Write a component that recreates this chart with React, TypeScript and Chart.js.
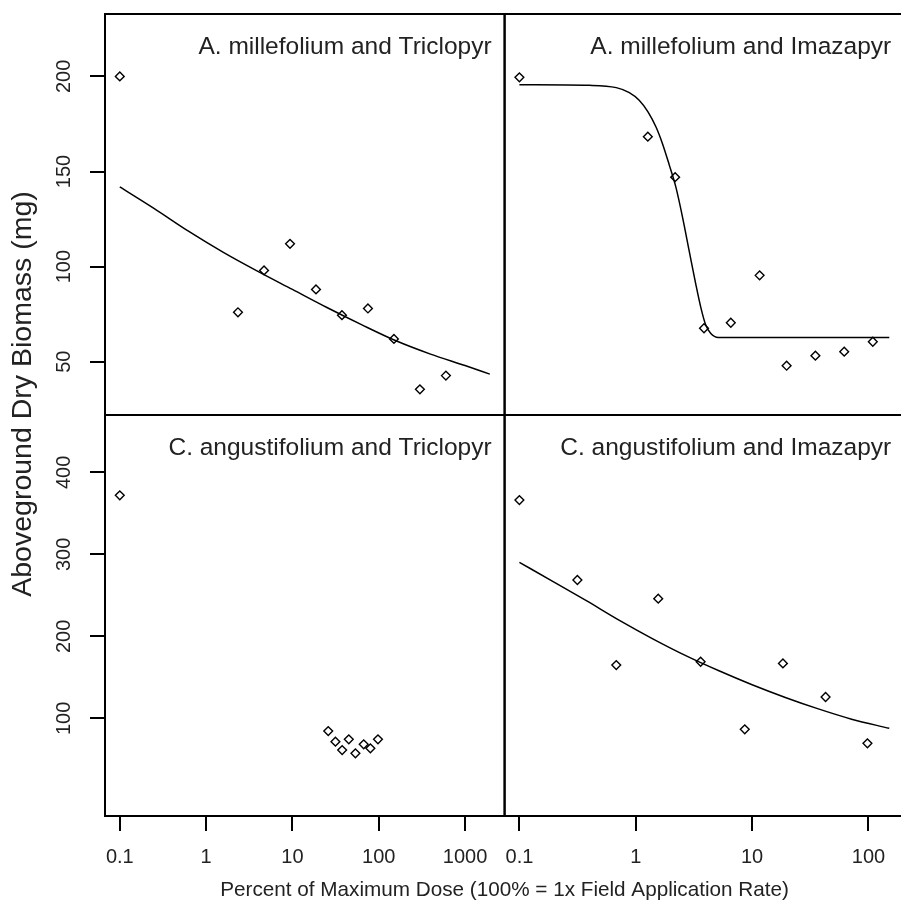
import React, { useEffect, useRef } from "react";
import { Chart, registerables } from "chart.js";

Chart.register(...registerables);

// ---- Data -------------------------------------------------------------

// A. millefolium, Triclopyr
const amTriDose = [0.1, 2.34, 4.69, 9.38, 18.75, 37.5, 75, 150, 300, 600];
const amTriBiomass = [200, 76, 98, 112, 88, 74.5, 78, 62, 35.5, 42.7];
const amTriFitDose = [0.1, 0.251, 0.631, 1.585, 3.98, 10, 25.1, 63.1, 158.5, 398, 1000, 1936];
const amTriFitBiomass = [141.9, 130.5, 118.5, 107.5, 97.5, 88, 78.5, 69.5, 61, 54, 48, 43.5];

// A. millefolium, Imazapyr
const amImaDose = [0.1, 1.27, 2.18, 3.86, 6.56, 11.6, 19.8, 35, 61.9, 109];
const amImaBiomass = [199.5, 168.3, 147, 67.6, 70.5, 95.4, 47.9, 53.2, 55.3, 60.5];
const amImaFitDose = [0.1, 0.4, 0.68, 0.88, 1.07, 1.27, 1.49, 1.7, 1.94, 2.21, 2.52, 2.87, 3.27, 3.61, 3.99, 4.4, 5.12, 151];
const amImaFitBiomass = [195.6, 195.3, 194.1, 191.5, 187.5, 181.5, 173.5, 164.5, 153.5, 141.9, 126.2, 108.7, 91.2, 79, 69.4, 65, 62.8, 62.8];

// C. angustifolium, Triclopyr
const caTriDose = [0.1, 26, 31.5, 37.7, 45, 53.7, 67, 80, 98];
const caTriBiomass = [372, 84.5, 71.5, 61.3, 74.4, 57.3, 68.3, 63.4, 74.4];

// C. angustifolium, Imazapyr
const caImaDose = [0.1, 0.315, 0.68, 1.56, 3.61, 8.65, 18.4, 42.8, 98];
const caImaBiomass = [366.2, 268.7, 165, 245.9, 169, 86.6, 167, 126, 69.5];
const caImaFitDose = [0.1, 0.195, 0.376, 0.724, 1.4, 2.69, 5.19, 10, 19.3, 37.1, 71.6, 151];
const caImaFitBiomass = [290.2, 266.8, 243.5, 219.5, 197, 176.5, 158, 141, 125.5, 111.5, 99, 87.8];

// Axis ticks
const leftDoseTicks = [0.1, 1, 10, 100, 1000];
const leftDoseLabels = ["0.1", "1", "10", "100", "1000"];
const rightDoseTicks = [0.1, 1, 10, 100];
const rightDoseLabels = ["0.1", "1", "10", "100"];
const topBiomassTicks = [50, 100, 150, 200];
const bottomBiomassTicks = [100, 200, 300, 400];

const panelTitles = [
  "A. millefolium and Triclopyr",
  "A. millefolium and Imazapyr",
  "C. angustifolium and Triclopyr",
  "C. angustifolium and Imazapyr",
];
const xTitle = "Percent of Maximum Dose (100% = 1x Field Application Rate)";
const yTitle = "Aboveground Dry Biomass (mg)";

// ---- Styling -----------------------------------------------------------

const FONT = '"Liberation Sans", Arial, sans-serif';
const TEXT = "#222";
const CANVAS_W = 910;
const CANVAS_H = 909;

const pts = (xs: number[], ys: number[]) => xs.map((x, i) => ({ x, y: ys[i] }));

const pointSet = (xs: number[], ys: number[], xAxisID: string, yAxisID: string) => ({
  data: pts(xs, ys),
  xAxisID,
  yAxisID,
  showLine: false,
  pointStyle: "rectRot" as const,
  pointRadius: 4.4,
  pointBorderWidth: 1.4,
  pointBorderColor: "#000",
  pointBackgroundColor: "rgba(0,0,0,0)",
});

const fitSet = (xs: number[], ys: number[], xAxisID: string, yAxisID: string) => ({
  data: pts(xs, ys),
  xAxisID,
  yAxisID,
  showLine: true,
  borderColor: "#000",
  borderWidth: 1.5,
  pointRadius: 0,
  cubicInterpolationMode: "monotone" as const,
  fill: false,
});

const tickGrid = { drawOnChartArea: false, drawTicks: true, tickLength: 15, color: "#000", lineWidth: 2 };

const xAxis = (ticks: number[], labels: string[], min: number, max: number, weight: number) => ({
  type: "logarithmic" as const,
  position: "bottom" as const,
  stack: "dose",
  stackWeight: 1,
  weight,
  min,
  max,
  afterBuildTicks: (s: any) => {
    s.ticks = ticks.map((v) => ({ value: v }));
  },
  afterFit: (s: any) => {
    s.height = CANVAS_H - 816;
    s.paddingLeft = 0;
    s.paddingRight = 0;
  },
  ticks: {
    autoSkip: false,
    maxRotation: 0,
    minRotation: 0,
    padding: 14,
    color: TEXT,
    font: { family: FONT, size: 20 },
    callback: (_v: any, i: number) => labels[i],
  },
  grid: tickGrid,
  border: { display: false },
});

const yAxis = (ticks: number[], min: number, max: number, weight: number) => ({
  type: "linear" as const,
  position: "left" as const,
  stack: "biomass",
  stackWeight: 1,
  weight,
  min,
  max,
  afterBuildTicks: (s: any) => {
    s.ticks = ticks.map((v) => ({ value: v }));
  },
  afterFit: (s: any) => {
    s.width = 105;
    s.paddingTop = 0;
    s.paddingBottom = 0;
  },
  ticks: {
    autoSkip: false,
    minRotation: 90,
    maxRotation: 90,
    crossAlign: "center" as const,
    padding: 9,
    color: TEXT,
    font: { family: FONT, size: 20 },
    callback: (v: any) => String(v),
  },
  grid: tickGrid,
  border: { display: false },
});

// Frames around the four panels plus panel captions and shared axis titles
const panelPlugin = {
  id: "panelDecor",
  afterDraw(chart: any) {
    const { ctx, scales } = chart;
    const cols = [scales.xL, scales.xR];
    const rows = [scales.yTop, scales.yBot];
    ctx.save();
    ctx.strokeStyle = "#000";
    ctx.lineWidth = 2;
    rows.forEach((ys: any) => {
      cols.forEach((xs: any) => {
        ctx.strokeRect(xs.left, ys.top, xs.right - xs.left, ys.bottom - ys.top);
      });
    });
    ctx.fillStyle = TEXT;
    ctx.font = `24.5px ${FONT}`;
    ctx.textAlign = "right";
    ctx.textBaseline = "middle";
    let k = 0;
    rows.forEach((ys: any) => {
      cols.forEach((xs: any) => {
        ctx.fillText(panelTitles[k++], xs.right - 13, ys.top + 33);
      });
    });
    ctx.textAlign = "center";
    ctx.font = `20.7px ${FONT}`;
    ctx.fillText(xTitle, (cols[0].left + cols[1].right) / 2, 890);
    ctx.save();
    ctx.font = `28.5px ${FONT}`;
    ctx.translate(23, 394);
    ctx.rotate(-Math.PI / 2);
    ctx.fillText(yTitle, 0, 0);
    ctx.restore();
    ctx.restore();
  },
};

export default function App() {
  const ref = useRef<HTMLCanvasElement>(null);

  useEffect(() => {
    if (!ref.current) return;
    const chart = new Chart(ref.current, {
      type: "scatter",
      data: {
        datasets: [
          pointSet(amTriDose, amTriBiomass, "xL", "yTop"),
          fitSet(amTriFitDose, amTriFitBiomass, "xL", "yTop"),
          pointSet(amImaDose, amImaBiomass, "xR", "yTop"),
          fitSet(amImaFitDose, amImaFitBiomass, "xR", "yTop"),
          pointSet(caTriDose, caTriBiomass, "xL", "yBot"),
          pointSet(caImaDose, caImaBiomass, "xR", "yBot"),
          fitSet(caImaFitDose, caImaFitBiomass, "xR", "yBot"),
        ] as any,
      },
      options: {
        animation: false,
        responsive: false,
        devicePixelRatio: 1,
        events: [],
        layout: { padding: { top: 14, left: 0, right: 0, bottom: 0 } },
        plugins: { legend: { display: false }, tooltip: { enabled: false } },
        scales: {
          xL: xAxis(leftDoseTicks, leftDoseLabels, 0.0674, 2873, 0),
          xR: xAxis(rightDoseTicks, rightDoseLabels, 0.0746, 202.9, 1),
          yTop: yAxis(topBiomassTicks, 22, 232.8, 2),
          yBot: yAxis(bottomBiomassTicks, -19.1, 469.9, 1),
        } as any,
      },
      plugins: [panelPlugin],
    });
    return () => chart.destroy();
  }, []);

  return (
    <div
      style={{
        position: "fixed",
        left: 0,
        top: 0,
        width: 901,
        height: 909,
        overflow: "hidden",
        background: "#fff",
      }}
    >
      <canvas
        ref={ref}
        width={CANVAS_W}
        height={CANVAS_H}
        style={{ display: "block", width: CANVAS_W, height: CANVAS_H }}
      />
    </div>
  );
}
